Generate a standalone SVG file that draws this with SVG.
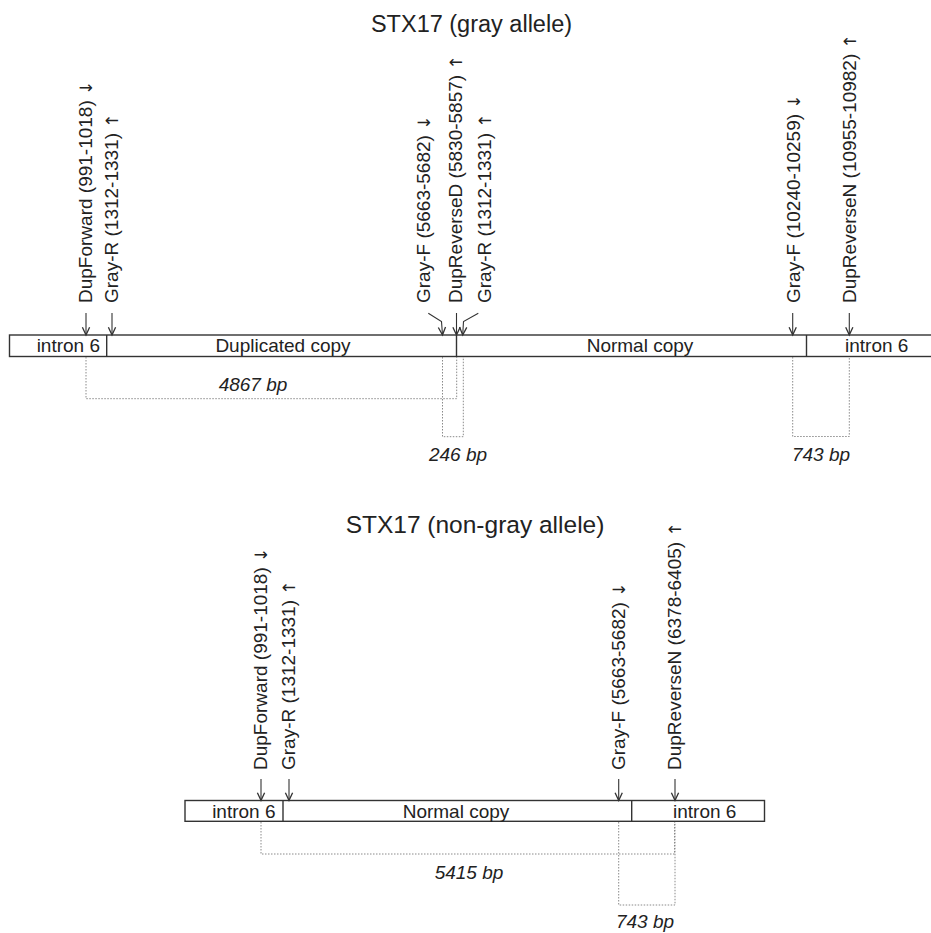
<svg xmlns="http://www.w3.org/2000/svg" width="931" height="933" viewBox="0 0 931 933">
<style>
text{font-family:"Liberation Sans",Arial,sans-serif;fill:#222;}
.title{font-size:23.5px;text-anchor:middle;}
.lbl{font-size:19px;}
.ar{font-family:"DejaVu Sans",sans-serif;font-size:17px;}
.seg{font-size:19px;}
.bp{font-size:19px;font-style:italic;text-anchor:middle;}
.box{fill:#fff;stroke:#333;stroke-width:1.4;}
.div{stroke:#333;stroke-width:1.4;}
.arr{fill:none;stroke:#333;stroke-width:1.1;marker-end:url(#ah);}
.dot{fill:none;stroke:#8a8a8a;stroke-width:1;stroke-dasharray:1.5 1.5;}
</style>
<defs>
<marker id="ah" markerUnits="userSpaceOnUse" markerWidth="12" markerHeight="12" viewBox="-8 -5 10 10" refX="0" refY="0" orient="auto">
<path d="M-6.5,-3 L0,0 L-6.5,3" fill="none" stroke="#333" stroke-width="1.1"/>
</marker>
</defs>

<text class="title" x="471.5" y="31.5">STX17 (gray allele)</text>
<text class="title" x="475" y="533" style="font-size:24.5px">STX17 (non-gray allele)</text>

<g id="top-bar">
<rect class="box" x="9.5" y="335" width="930" height="21.5"/>
<line class="div" x1="106.7" y1="335" x2="106.7" y2="356.5"/>
<line class="div" x1="456.5" y1="335" x2="456.5" y2="356.5"/>
<line class="div" x1="806.5" y1="335" x2="806.5" y2="356.5"/>
<text class="seg" x="100" y="352" text-anchor="end">intron 6</text>
<text class="seg" x="283" y="352" text-anchor="middle">Duplicated copy</text>
<text class="seg" x="640" y="352" text-anchor="middle">Normal copy</text>
<text class="seg" x="845" y="352">intron 6</text>
</g>

<g id="bottom-bar">
<rect class="box" x="185" y="800.5" width="579.5" height="20.8"/>
<line class="div" x1="283" y1="800.5" x2="283" y2="821.3"/>
<line class="div" x1="631.7" y1="800.5" x2="631.7" y2="821.3"/>
<text class="seg" x="275.5" y="817.5" text-anchor="end">intron 6</text>
<text class="seg" x="456" y="817.5" text-anchor="middle">Normal copy</text>
<text class="seg" x="673" y="817.5">intron 6</text>
</g>

<g id="top-primers">
<text class="lbl" transform="translate(92,303) rotate(-90)">DupForward (991-1018) <tspan class="ar">↓</tspan></text>
<text class="lbl" transform="translate(118,303) rotate(-90)">Gray-R (1312-1331) <tspan class="ar">↑</tspan></text>
<text class="lbl" transform="translate(430,303) rotate(-90)">Gray-F (5663-5682) <tspan class="ar">↓</tspan></text>
<text class="lbl" transform="translate(461.5,303) rotate(-90)">DupReverseD (5830-5857) <tspan class="ar">↑</tspan></text>
<text class="lbl" transform="translate(491,303) rotate(-90)">Gray-R (1312-1331) <tspan class="ar">↑</tspan></text>
<text class="lbl" transform="translate(800,303) rotate(-90)">Gray-F (10240-10259) <tspan class="ar">↓</tspan></text>
<text class="lbl" transform="translate(855.5,303) rotate(-90)">DupReverseN (10955-10982) <tspan class="ar">↑</tspan></text>
</g>

<g id="bottom-primers">
<text class="lbl" transform="translate(267,770) rotate(-90)">DupForward (991-1018) <tspan class="ar">↓</tspan></text>
<text class="lbl" transform="translate(295,770) rotate(-90)">Gray-R (1312-1331) <tspan class="ar">↑</tspan></text>
<text class="lbl" transform="translate(625,770) rotate(-90)">Gray-F (5663-5682) <tspan class="ar">↓</tspan></text>
<text class="lbl" transform="translate(681,770) rotate(-90)">DupReverseN (6378-6405) <tspan class="ar">↑</tspan></text>
</g>

<g id="connectors">
<path class="arr" d="M86,313 L86,335"/>
<path class="arr" d="M112,313 L112,335"/>
<path class="arr" d="M428.3,313.3 L441.5,321.5 L442.5,335"/>
<path class="arr" d="M456.5,313 L456.5,335"/>
<path class="arr" d="M478.3,313.3 L463.5,321.5 L462.7,335"/>
<path class="arr" d="M792.7,313 L792.7,335"/>
<path class="arr" d="M849.3,313 L849.3,335"/>

<path class="arr" d="M261,779 L261,800.5"/>
<path class="arr" d="M289,779 L289,800.5"/>
<path class="arr" d="M618.7,779 L618.7,800.5"/>
<path class="arr" d="M675,779 L675,800.5"/>

<path class="dot" d="M86,357 L86,398.7 L456.7,398.7 L456.7,357"/>
<path class="dot" d="M442.5,357 L442.5,436.7 L463.3,436.7 L463.3,357"/>
<path class="dot" d="M792.7,357 L792.7,436.5 L849.3,436.5 L849.3,357"/>
<path class="dot" d="M261,822 L261,854 L674.5,854 L674.5,822"/>
<path class="dot" d="M618.7,822 L618.7,905 L675,905 L675,822"/>
</g>

<g id="sizes">
<text class="bp" x="253" y="391">4867 bp</text>
<text class="bp" x="458" y="461">246 bp</text>
<text class="bp" x="821" y="461">743 bp</text>
<text class="bp" x="469" y="879">5415 bp</text>
<text class="bp" x="645" y="928">743 bp</text>
</g>
</svg>
